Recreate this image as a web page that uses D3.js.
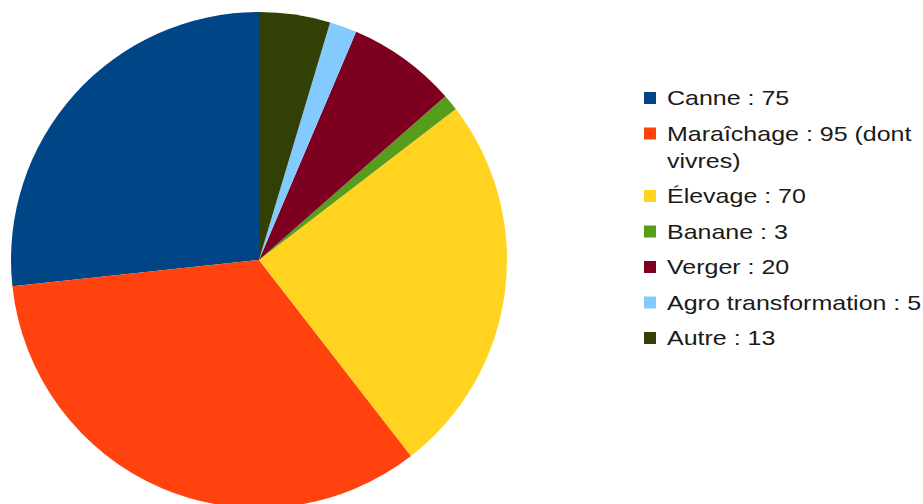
<!DOCTYPE html>
<html>
<head>
<meta charset="utf-8">
<script src="https://cdn.jsdelivr.net/npm/d3@7"></script>
<style>
  body { margin: 0; background: #fff; }
  svg { display: block; }
</style>
</head>
<body>
<svg id="chart"></svg>
<script>
// data
var categories = ["Canne", "Maraîchage", "Élevage", "Banane", "Verger", "Agro transformation", "Autre"];
var values = [75, 95, 70, 3, 20, 5, 13];
var legendLabels = [
    ["Canne : 75"],
    ["Maraîchage : 95 (dont", "vivres)"],
    ["Élevage : 70"],
    ["Banane : 3"],
    ["Verger : 20"],
    ["Agro transformation : 5"],
    ["Autre : 13"]
];
var colours = ["#004586", "#ff420e", "#ffd320", "#579d1c", "#7e0021", "#83caff", "#314004"];

var width = 923, height = 504;
var cx = 259, cy = 260, radius = 248;

var svg = d3.select("#chart")
    .attr("width", width)
    .attr("height", height);

// slices go counter-clockwise from 12 o'clock
var pie = d3.pie()
    .sort(null)
    .startAngle(0)
    .endAngle(-2 * Math.PI);

var arc = d3.arc()
    .innerRadius(0)
    .outerRadius(radius);

var colour = d3.scaleOrdinal()
    .domain(categories)
    .range(colours);

var data = categories.map(function (c, i) {
    return { name: c, value: values[i] };
});

svg.append("g")
    .attr("transform", "translate(" + cx + "," + cy + ")")
    .selectAll("path")
    .data(pie.value(function (d) { return d.value; })(data))
    .enter().append("path")
    .attr("d", arc)
    .attr("fill", function (d) { return colour(d.data.name); });

// legend (text looks a bit stretched sideways in the original)
var legend = svg.append("g").attr("class", "legend");
var rowY = 98, lineGap = 27, rowGap = 35.5, textX = 667;

legendLabels.forEach(function (lines, i) {
    var g = legend.append("g");
    g.append("rect")
        .attr("x", 644)
        .attr("y", rowY - 6)
        .attr("width", 12)
        .attr("height", 12)
        .attr("fill", colour(categories[i]));
    lines.forEach(function (t, j) {
        g.append("text")
            .attr("transform", "translate(" + textX + "," + (rowY + j * lineGap) + ") scale(1.19,1)")
            .attr("dy", "0.35em")
            .style("font-family", "'Liberation Sans', Arial, sans-serif")
            .style("font-size", "21px")
            .style("fill", "#1a1a1a")
            .text(t);
    });
    rowY += (lines.length - 1) * lineGap + rowGap;
});
</script>
</body>
</html>
